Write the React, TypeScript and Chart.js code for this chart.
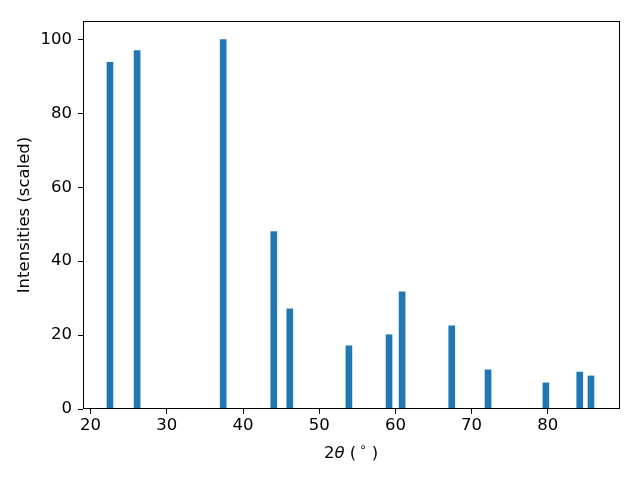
import React, { useEffect, useRef } from "react";
import { Chart, registerables } from "chart.js";

Chart.register(...registerables);

// Peak positions (2θ, degrees) and scaled intensities
const peakPositions = [22.54, 26.1, 37.4, 44.04, 46.14, 53.9, 59.17, 60.88, 67.4, 72.16, 79.75, 84.2, 85.67];
const intensities = [93.8, 97.0, 100, 48.0, 27.1, 17.1, 20.1, 31.7, 22.5, 10.6, 7.05, 10.0, 8.95];
const xTicks = [20, 30, 40, 50, 60, 70, 80];
const yTicks = [0, 20, 40, 60, 80, 100];
const yTitle = "Intensities (scaled)";
const xTitleParts = ["2", "θ", " (", "∘", ")"];

const FONT = "'DejaVu Sans', sans-serif";
const FS = 16.5;
const BLUE = "#1f77b4";

const framePlugin = {
  id: "frameAndXTitle",
  afterDraw(chart: any) {
    const { ctx, chartArea } = chart;
    const { left, top, right, bottom } = chartArea;
    ctx.save();
    ctx.strokeStyle = "#000";
    ctx.lineWidth = 1;
    ctx.strokeRect(left + 0.5, top + 0.5, right - left, bottom - top - 1);

    // x-axis title: 2θ (∘) with italic θ and superscript circle
    const y = 458;
    const normal = `${FS}px ${FONT}`;
    const italic = `oblique ${FS}px ${FONT}`;
    const small = `${Math.round(FS * 0.7)}px ${FONT}`;
    const pieces = [
      { t: xTitleParts[0], f: normal, dy: 0, gap: 0 },
      { t: xTitleParts[1], f: italic, dy: 0, gap: 0 },
      { t: xTitleParts[2], f: normal, dy: 0, gap: 3 },
      { t: xTitleParts[3], f: small, dy: -7, gap: 5 },
      { t: xTitleParts[4], f: normal, dy: 0, gap: 0 },
    ];
    let total = 0;
    const widths: number[] = [];
    for (const p of pieces) {
      ctx.font = p.f;
      const w = ctx.measureText(p.t).width;
      widths.push(w);
      total += w + p.gap;
    }
    let x = (left + right) / 2 - total / 2;
    ctx.fillStyle = "#000";
    ctx.textBaseline = "alphabetic";
    ctx.textAlign = "left";
    pieces.forEach((p, i) => {
      ctx.font = p.f;
      ctx.fillText(p.t, x, y + p.dy);
      x += widths[i] + p.gap;
    });
    ctx.restore();
  },
};

export default function App() {
  const ref = useRef<HTMLCanvasElement | null>(null);

  useEffect(() => {
    if (!ref.current) return;
    Chart.defaults.font.family = FONT;
    const chart = new Chart(ref.current, {
      type: "bar",
      data: {
        datasets: [
          {
            data: peakPositions.map((x, i) => ({ x, y: intensities[i] })),
            backgroundColor: BLUE,
            borderWidth: 0,
            barThickness: 6,
          },
        ],
      },
      options: {
        responsive: false,
        animation: false,
        layout: { padding: { left: 0, top: 21, right: 21, bottom: 0 } },
        plugins: {
          legend: { display: false },
          tooltip: { enabled: false },
        },
        scales: {
          x: {
            type: "linear",
            min: 19.0,
            max: 89.35,
            offset: false,
            afterBuildTicks: (scale: any) => {
              scale.ticks = xTicks.map((v) => ({ value: v }));
            },
            afterFit: (scale: any) => {
              scale.height = 71;
            },
            grid: {
              display: true,
              drawOnChartArea: false,
              drawTicks: true,
              tickLength: 5,
              color: "#000",
              lineWidth: 1,
              offset: false,
            },
            border: { display: false },
            ticks: {
              color: "#000",
              font: { size: FS, family: FONT },
              padding: 2,
              maxRotation: 0,
              autoSkip: false,
            },
          },
          y: {
            type: "linear",
            min: 0,
            max: 105,
            afterBuildTicks: (scale: any) => {
              scale.ticks = yTicks.map((v) => ({ value: v }));
            },
            afterFit: (scale: any) => {
              scale.width = 83;
            },
            grid: {
              display: true,
              drawOnChartArea: false,
              drawTicks: true,
              tickLength: 5,
              color: "#000",
              lineWidth: 1,
            },
            border: { display: false },
            ticks: {
              color: "#000",
              font: { size: FS, family: FONT },
              padding: 6,
            },
            title: {
              display: true,
              text: yTitle,
              color: "#000",
              font: { size: FS, family: FONT },
              padding: { top: 15, bottom: 0 },
            },
          },
        },
      },
      plugins: [framePlugin],
    } as any);
    return () => chart.destroy();
  }, []);

  return (
    <div style={{ position: "absolute", left: 0, top: 0, width: 640, height: 480 }}>
      <canvas ref={ref} width={640} height={480} />
    </div>
  );
}
